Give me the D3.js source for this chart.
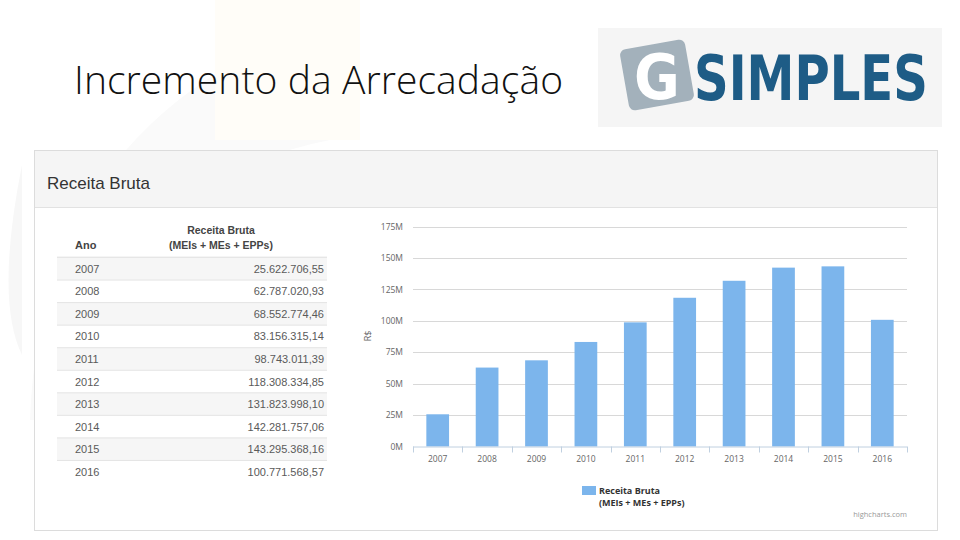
<!DOCTYPE html>
<html><head><meta charset="utf-8">
<script src="https://cdn.jsdelivr.net/npm/d3@7"></script>
<style>body{margin:0;background:#fff}svg{display:block}</style>
</head><body>
<svg id="c" width="960" height="540"></svg>
<script>
const years = ["2007","2008","2009","2010","2011","2012","2013","2014","2015","2016"];
const receita = [25622706.55, 62787020.93, 68552774.46, 83156315.14, 98743011.39, 118308334.85, 131823998.10, 142281757.06, 143295368.16, 100771568.57];
const receitaLabels = ["25.622.706,55","62.787.020,93","68.552.774,46","83.156.315,14","98.743.011,39","118.308.334,85","131.823.998,10","142.281.757,06","143.295.368,16","100.771.568,57"];
const yTicks = [0, 25e6, 50e6, 75e6, 100e6, 125e6, 150e6, 175e6];
const tickLabel = d => (d/1e6) + "M";

const svg = d3.select("#c");
const F = "'Liberation Sans', Arial, sans-serif";

// faint background watermarks
svg.append("path").attr("d","M 30 420 Q 40 120 330 20 L 330 140 Q 120 180 60 420 Z").attr("fill","#fafafa");
svg.append("rect").attr("x",215).attr("y",0).attr("width",145).attr("height",140).attr("fill","#fffdf8");
svg.append("path").attr("d","M 22 165 Q -5 300 22 355 Z").attr("fill","#f7f7f7");

// title
svg.append("text").attr("x",74).attr("y",94).attr("font-family","'Open Sans', 'Noto Sans', sans-serif")
  .attr("font-weight",300).attr("font-size",39).attr("fill","#111")
  .attr("textLength",489).attr("lengthAdjust","spacing").text("Incremento da Arrecadação");

// logo
const logo = svg.append("g");
logo.append("rect").attr("x",598).attr("y",28).attr("width",344).attr("height",99).attr("fill","#f5f5f5");
logo.append("rect").attr("x",624).attr("y",44).attr("width",66).attr("height",62).attr("rx",6)
  .attr("fill","#a3b1bb").attr("transform","rotate(-10 657 75)");
logo.append("text").attr("x",657).attr("y",99).attr("text-anchor","middle").attr("font-family","'Liberation Sans Narrow','DejaVu Sans Condensed',sans-serif")
  .attr("font-weight","bold").attr("font-size",62).attr("fill","#fff").text("G");
const simp = logo.append("text").attr("x",0).attr("y",0).attr("font-family","'Liberation Sans Narrow','DejaVu Sans Condensed',sans-serif")
  .attr("font-weight","bold").attr("font-size",62).attr("fill","#1e5c86").text("SIMPLES");
const w = simp.node().getComputedTextLength();
simp.attr("transform",`translate(694,100) scale(${Math.min(1,234/w)},1)`);

// panel
svg.append("rect").attr("x",34.5).attr("y",150.5).attr("width",903).attr("height",380).attr("fill","#fff").attr("stroke","#dcdcdc");
svg.append("rect").attr("x",35).attr("y",151).attr("width",902).attr("height",56).attr("fill","#f5f5f5");
svg.append("line").attr("x1",35).attr("x2",937).attr("y1",207.5).attr("y2",207.5).attr("stroke","#e2e2e2");
svg.append("text").attr("x",47).attr("y",189).attr("font-family",F).attr("font-size",17).attr("fill","#333").text("Receita Bruta");

// table
const tX0 = 57, tX1 = 327, rowH = 22.55, tY0 = 257.5;
const rowY = d3.scaleBand().domain(years).range([tY0, tY0 + rowH*years.length]);
const tbl = svg.append("g");
tbl.append("text").attr("x",75).attr("y",249).attr("font-family",F).attr("font-size",11).attr("font-weight","bold").attr("fill","#444").text("Ano");
tbl.append("text").attr("x",221).attr("y",234).attr("text-anchor","middle").attr("font-family",F).attr("font-size",10.5).attr("font-weight","bold").attr("fill","#444").text("Receita Bruta");
tbl.append("text").attr("x",221).attr("y",249).attr("text-anchor","middle").attr("font-family",F).attr("font-size",10.5).attr("font-weight","bold").attr("fill","#444").text("(MEIs + MEs + EPPs)");
tbl.append("line").attr("x1",tX0).attr("x2",tX1).attr("y1",tY0).attr("y2",tY0).attr("stroke","#d6d6d6").attr("stroke-width",1.5);
years.forEach((y,i)=>{
  const top = rowY(y);
  if(i%2===0) tbl.append("rect").attr("x",tX0).attr("y",top).attr("width",tX1-tX0).attr("height",rowH).attr("fill","#f6f6f6");
  if(i>0) tbl.append("line").attr("x1",tX0).attr("x2",tX1).attr("y1",top).attr("y2",top).attr("stroke","#e4e4e4");
  tbl.append("text").attr("x",75).attr("y",top+rowH/2+4).attr("font-family",F).attr("font-size",11).attr("fill","#5a5a5a").text(y);
  tbl.append("text").attr("x",324).attr("y",top+rowH/2+4).attr("text-anchor","end").attr("font-family",F).attr("font-size",11).attr("fill","#5a5a5a").text(receitaLabels[i]);
});

// chart
const pl = 413, pr = 907, pt = 226.5, pb = 446.5;
const x = d3.scaleBand().domain(years).range([pl, pr]).paddingInner(0.54).paddingOuter(0.27);
const xb = d3.scaleBand().domain(years).range([pl, pr]);
const y = d3.scaleLinear().domain([0, 175e6]).range([pb, pt]);
const ch = svg.append("g");
const CF = "'Open Sans','Noto Sans',sans-serif";
ch.append("g").selectAll("line").data(yTicks.slice(1)).join("line")
  .attr("x1",pl).attr("x2",pr).attr("y1",d=>Math.round(y(d))+0.5).attr("y2",d=>Math.round(y(d))+0.5)
  .attr("stroke","#d8d8d8").attr("stroke-width",1.2);
const ya = ch.append("g").attr("transform",`translate(${pl},0)`)
  .call(d3.axisLeft(y).tickValues(yTicks).tickFormat(tickLabel).tickSize(0).tickPadding(10));
ya.select(".domain").remove();
ya.selectAll("text").attr("font-family",CF).attr("font-size",8.5).attr("fill","#666");
ch.append("text").attr("transform",`translate(371,336) rotate(-90)`).attr("text-anchor","middle")
  .attr("font-family",CF).attr("font-size",9).attr("fill","#666").text("R$");
ch.append("g").selectAll("rect").data(years).join("rect")
  .attr("x",d=>x(d)).attr("width",x.bandwidth())
  .attr("y",(d,i)=>y(receita[i])).attr("height",(d,i)=>pb-y(receita[i])).attr("fill","#7cb5ec");
// x axis
const xa = ch.append("g").attr("transform",`translate(0,${pb})`);
xa.append("line").attr("x1",pl).attr("x2",pr).attr("y1",0.5).attr("y2",0.5).attr("stroke","#c0d0e0");
xa.selectAll("line.t").data(years.concat(["end"])).join("line").attr("class","t")
  .attr("x1",(d,i)=>Math.round(pl + i*xb.step())+0.5).attr("x2",(d,i)=>Math.round(pl + i*xb.step())+0.5)
  .attr("y1",0).attr("y2",6).attr("stroke","#c0d0e0");
xa.selectAll("text").data(years).join("text").attr("x",d=>xb(d)+xb.bandwidth()/2).attr("y",15)
  .attr("text-anchor","middle").attr("font-family",CF).attr("font-size",8.5).attr("fill","#666").text(d=>d);

// legend
ch.append("rect").attr("x",582).attr("y",486).attr("width",14).attr("height",9).attr("fill","#7cb5ec");
ch.append("text").attr("x",599).attr("y",494).attr("font-family",CF).attr("font-size",9).attr("font-weight","bold").attr("fill","#333").text("Receita Bruta");
ch.append("text").attr("x",599).attr("y",506).attr("font-family",CF).attr("font-size",9).attr("font-weight","bold").attr("fill","#333").text("(MEIs + MEs + EPPs)");
ch.append("text").attr("x",907).attr("y",517).attr("text-anchor","end").attr("font-family",CF).attr("font-size",7.5).attr("fill","#999").text("highcharts.com");
</script>
</body></html>
